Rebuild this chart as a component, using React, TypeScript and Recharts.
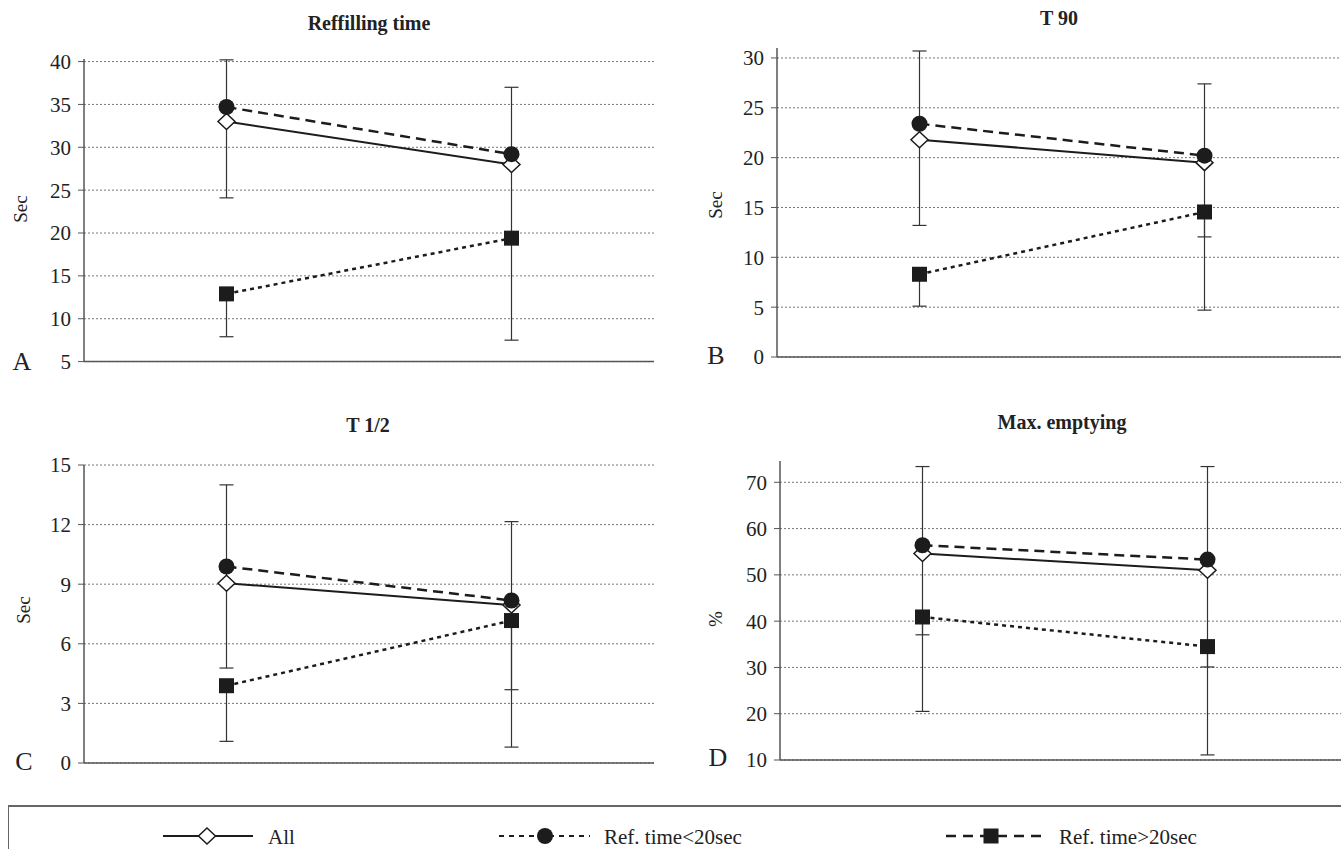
import { LineChart, Line, XAxis, YAxis, ErrorBar, ReferenceLine } from "recharts"

const SERIF = "'Liberation Serif', 'DejaVu Serif', serif"
const INK = "#1c1c1c"

const groups = ["First", "Second"]

// Reffilling time (sec)
const refillAll = [33.0, 28.0]
const refillAllErr = [[8.9, 7.2], [20.5, 9.0]]
const refillCircle = [34.7, 29.2]
const refillSquare = [12.9, 19.4]
const refillSquareErr = [[5.0, 0], [0, 0]]
const refillTicks = [5, 10, 15, 20, 25, 30, 35, 40]

// T 90 (sec)
const t90All = [21.8, 19.5]
const t90AllErr = [[8.6, 8.9], [7.45, 7.9]]
const t90Circle = [23.4, 20.2]
const t90Square = [8.3, 14.55]
const t90SquareErr = [[3.2, 0], [9.85, 0]]
const t90Ticks = [0, 5, 10, 15, 20, 25, 30]

// T 1/2 (sec)
const halfAll = [9.05, 7.95]
const halfAllErr = [[4.27, 4.95], [4.26, 4.2]]
const halfCircle = [9.89, 8.18]
const halfSquare = [3.89, 7.17]
const halfSquareErr = [[2.8, 0], [6.37, 0]]
const halfTicks = [0, 3, 6, 9, 12, 15]

// Max. emptying (%)
const maxAll = [54.6, 51.0]
const maxAllErr = [[17.55, 18.8], [20.9, 22.4]]
const maxCircle = [56.4, 53.3]
const maxSquare = [40.9, 34.5]
const maxSquareErr = [[20.4, 0], [23.4, 0]]
const maxTicks = [10, 20, 30, 40, 50, 60, 70]

const legendLabels = ["All", "Ref. time<20sec", "Ref. time>20sec"]

const AXIS_W = 84
const PAD = 20
const X_H = 2

const panels = [
  { title: "Reffilling time", letter: "A", unit: "Sec", all: refillAll, allErr: refillAllErr, circle: refillCircle, square: refillSquare, squareErr: refillSquareErr, ticks: refillTicks, domain: [5, 40.3], plot: [84, 654, 59.4, 362], titlePos: [369, 23], letterPos: [22, 370], unitPos: [20, 209] },
  { title: "T 90", letter: "B", unit: "Sec", all: t90All, allErr: t90AllErr, circle: t90Circle, square: t90Square, squareErr: t90SquareErr, ticks: t90Ticks, domain: [0, 31], plot: [777, 1347, 48.3, 357.3], titlePos: [1059, 18], letterPos: [716, 364], unitPos: [715, 205] },
  { title: "T 1/2", letter: "C", unit: "Sec", all: halfAll, allErr: halfAllErr, circle: halfCircle, square: halfSquare, squareErr: halfSquareErr, ticks: halfTicks, domain: [0, 15], plot: [84, 654, 465, 763], titlePos: [368, 425], letterPos: [24, 770], unitPos: [23, 610] },
  { title: "Max. emptying", letter: "D", unit: "%", all: maxAll, allErr: maxAllErr, circle: maxCircle, square: maxSquare, squareErr: maxSquareErr, ticks: maxTicks, domain: [10, 74.6], plot: [780, 1350, 461, 760], titlePos: [1062, 422], letterPos: [718, 766], unitPos: [715, 619] },
]

const Diamond = (props: any) => {
  const { cx, cy, index } = props
  if (cx == null || cy == null) return <g key={index} />
  return (
    <polygon
      key={index}
      points={`${cx},${cy - 8} ${cx + 8.5},${cy} ${cx},${cy + 8} ${cx - 8.5},${cy}`}
      fill="#fff"
      stroke={INK}
      strokeWidth={1.5}
    />
  )
}

const Dot = (props: any) => {
  const { cx, cy, index } = props
  if (cx == null || cy == null) return <g key={index} />
  return <circle key={index} cx={cx} cy={cy} r={8} fill={INK} stroke="none" />
}

const Square = (props: any) => {
  const { cx, cy, index } = props
  if (cx == null || cy == null) return <g key={index} />
  return <rect key={index} x={cx - 7.5} y={cy - 7.5} width={15} height={15} fill={INK} stroke="none" />
}

function Panel({ p }: { p: any }) {
  const data = groups.map((g, i) => ({
    group: g,
    all: p.all[i],
    allErr: p.allErr[i],
    circle: p.circle[i],
    square: p.square[i],
    squareErr: p.squareErr[i],
  }))
  const [x0, x1, y0, y1] = p.plot
  const width = x1 - x0 + AXIS_W + PAD
  const height = y1 - y0 + PAD * 2 + X_H
  return (
    <div className="panel" style={{ position: "absolute", left: x0 - AXIS_W, top: y0 - PAD, fontFamily: SERIF }}>
      <LineChart width={width} height={height} data={data} margin={{ top: PAD, right: PAD, bottom: PAD, left: 0 }}>
        <XAxis
          dataKey="group"
          scale="band"
          tick={false}
          tickLine={false}
          height={X_H}
          axisLine={{ stroke: "#555", strokeWidth: 1.5 }}
        />
        <YAxis
          type="number"
          domain={p.domain}
          ticks={p.ticks}
          interval={0}
          allowDataOverflow
          width={AXIS_W}
          tickSize={6}
          tickMargin={7}
          axisLine={{ stroke: "#555", strokeWidth: 1.5 }}
          tickLine={{ stroke: "#555" }}
          tick={{ fill: "#222", fontSize: 21 }}
        />
        {/* dotted grid at the tick values */}
        {p.ticks.map((t: number) => (
          <ReferenceLine key={t} y={t} stroke="#777" strokeDasharray="2 2" strokeWidth={1} />
        ))}
        <Line dataKey="all" stroke={INK} strokeWidth={2} dot={Diamond} activeDot={false} isAnimationActive={false}>
          <ErrorBar dataKey="allErr" direction="y" width={7} stroke="#333" strokeWidth={1.2} isAnimationActive={false} />
        </Line>
        <Line dataKey="circle" stroke={INK} strokeWidth={2.5} strokeDasharray="10 6" dot={Dot} activeDot={false} isAnimationActive={false} />
        <Line dataKey="square" stroke={INK} strokeWidth={2.5} strokeDasharray="4 4" dot={Square} activeDot={false} isAnimationActive={false}>
          <ErrorBar dataKey="squareErr" direction="y" width={7} stroke="#333" strokeWidth={1.2} isAnimationActive={false} />
        </Line>
      </LineChart>
    </div>
  )
}

export default function App() {
  const legendY = 836
  return (
    <div style={{ position: "absolute", left: 0, top: 0, width: 1341, height: 849, overflow: "hidden", background: "#fff" }}>
      {panels.map((p) => (
        <Panel key={p.letter} p={p} />
      ))}
      <div
        style={{
          position: "absolute",
          left: 8,
          top: 805,
          width: 1400,
          height: 100,
          borderTop: "2px solid #666",
          borderLeft: "1.5px solid #666",
        }}
      />
      <svg width={1341} height={849} style={{ position: "absolute", left: 0, top: 0, pointerEvents: "none" }}>
        {panels.map((p) => (
          <g key={p.letter} fontFamily={SERIF} fill="#222">
            <text x={p.titlePos[0]} y={p.titlePos[1]} textAnchor="middle" dominantBaseline="central" fontSize={20} fontWeight="bold">
              {p.title}
            </text>
            <text x={p.letterPos[0]} y={p.letterPos[1]} textAnchor="middle" fontSize={26}>
              {p.letter}
            </text>
            <text
              x={p.unitPos[0]}
              y={p.unitPos[1]}
              textAnchor="middle"
              dominantBaseline="central"
              fontSize={19}
              transform={`rotate(-90 ${p.unitPos[0]} ${p.unitPos[1]})`}
            >
              {p.unit}
            </text>
          </g>
        ))}
        <g fontFamily={SERIF} fontSize={21} fill="#222">
          <line x1={163} x2={253} y1={legendY} y2={legendY} stroke={INK} strokeWidth={2} />
          <polygon points={`207,${legendY - 8} 215.5,${legendY} 207,${legendY + 8} 198.5,${legendY}`} fill="#fff" stroke={INK} strokeWidth={1.5} />
          <text x={268} y={legendY + 1} dominantBaseline="central">{legendLabels[0]}</text>

          <line x1={499} x2={590} y1={legendY} y2={legendY} stroke={INK} strokeWidth={2} strokeDasharray="5 5" />
          <circle cx={545} cy={legendY} r={8} fill={INK} />
          <text x={604} y={legendY + 1} dominantBaseline="central">{legendLabels[1]}</text>

          <line x1={946} x2={1044} y1={legendY} y2={legendY} stroke={INK} strokeWidth={2.5} strokeDasharray="10 7" />
          <rect x={983.5} y={legendY - 7.5} width={15} height={15} fill={INK} />
          <text x={1059} y={legendY + 1} dominantBaseline="central">{legendLabels[2]}</text>
        </g>
      </svg>
    </div>
  )
}
